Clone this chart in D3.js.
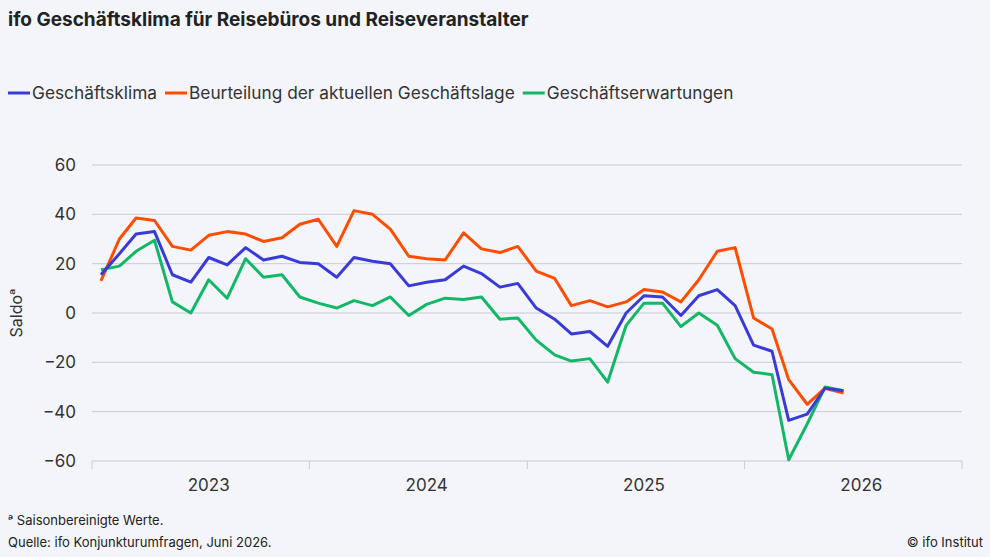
<!DOCTYPE html>
<html><head><meta charset="utf-8">
<script src="https://cdn.jsdelivr.net/npm/d3@7"></script>
<style>body{margin:0;background:#f3f5fa;font-family:Inter,"Noto Sans",sans-serif;}</style>
</head><body><svg id="c" width="990" height="557"></svg>
<script>
const startMonth = "2023-01";
const klima = [15.5,24,32,33,15.5,12.5,22.5,19.5,26.5,21.5,23,20.5,20,14.5,22.5,21,20,11,12.5,13.5,19,16,10.5,12,2,-2.5,-8.5,-7.5,-13.5,0,7,6.5,-1,7,9.5,3,-13,-15.5,-43.5,-41,-30.5,-31.5];
const lage = [13,30,38.5,37.5,27,25.5,31.5,33,32,29,30.5,36,38,27,41.5,40,34,23,22,21.5,32.5,26,24.5,27,17,14,3,5,2.5,4.5,9.5,8.5,4.5,13.5,25,26.5,-2,-6.5,-27,-37,-30.5,-32.5];
const erw = [17.5,19,25,29.5,4.5,0,13.5,6,22,14.5,15.5,6.5,4,2,5,3,6.5,-1,3.5,6,5.5,6.5,-2.5,-2,-11,-17,-19.5,-18.5,-28,-5,4,4,-5.5,0,-5,-18.5,-24,-25,-59.5,-45,-30,-31.5];
const yTicks = [-60,-40,-20,0,20,40,60];
const years = [2023,2024,2025,2026];
const seriesNames = ["Geschäftsklima","Beurteilung der aktuellen Geschäftslage","Geschäftserwartungen"];
const colors = ["#3a3ad8","#ff4d00","#12b866"];

const svg = d3.select("#c");
const x = d3.scaleTime().domain([new Date(2023,0,1),new Date(2027,0,1)]).range([92,962]);
const y = d3.scaleLinear().domain([-60,60]).range([461,165]);
const dateOf = i => new Date(2023, i, 16);

svg.append("text").attr("x",8).attr("y",26).attr("font-size",19).attr("font-weight",700).attr("fill","#222")
  .text("ifo Geschäftsklima für Reisebüros und Reiseveranstalter");

// legend
let lx = 8;
const lg = svg.append("g");
seriesNames.forEach((n,k)=>{
  lg.append("line").attr("x1",lx).attr("x2",lx+22).attr("y1",93).attr("y2",93).attr("stroke",colors[k]).attr("stroke-width",3);
  const t = lg.append("text").attr("x",lx+24).attr("y",99).attr("font-size",17.3).attr("fill","#333").text(n);
  lx += 24 + t.node().getComputedTextLength() + 8;
});

// grid
svg.append("g").selectAll("line").data(yTicks).join("line")
  .attr("x1",92).attr("x2",962).attr("y1",d=>y(d)).attr("y2",d=>y(d))
  .attr("stroke","#c9cad2").attr("stroke-width",1);
svg.append("g").selectAll("text").data(yTicks).join("text")
  .attr("x",76).attr("y",d=>y(d)+6).attr("text-anchor","end").attr("font-size",17).attr("fill","#333")
  .text(d=>d<0?"\u2212"+Math.abs(d):d);
svg.append("text").attr("transform","translate(22,313) rotate(-90)").attr("text-anchor","middle")
  .attr("font-size",16).attr("fill","#333").text("Saldoᵃ");

// x axis
const xt = years.concat([2027]).map(v=>new Date(v,0,1));
svg.append("g").selectAll("line").data(xt).join("line")
  .attr("x1",d=>x(d)).attr("x2",d=>x(d)).attr("y1",461).attr("y2",469).attr("stroke","#c9cad2");
svg.append("g").selectAll("text").data(years).join("text")
  .attr("x",d=>x(new Date(d,6,16))).attr("y",491).attr("text-anchor","middle").attr("font-size",17).attr("fill","#333").text(d=>d);

const line = d3.line().x((d,i)=>x(dateOf(i))).y(d=>y(d));
[erw,lage,klima].forEach((s,j)=>{
  const k=[2,1,0][j];
  svg.append("path").attr("d",line(s)).attr("fill","none").attr("stroke",colors[k]).attr("stroke-width",3).attr("stroke-linejoin","round");
});

svg.append("text").attr("x",8).attr("y",525).attr("font-size",13).attr("fill","#222").text("ᵃ Saisonbereinigte Werte.");
svg.append("text").attr("x",8).attr("y",547).attr("font-size",13).attr("fill","#222").text("Quelle: ifo Konjunkturumfragen,  Juni 2026.");
svg.append("text").attr("x",983).attr("y",547).attr("text-anchor","end").attr("font-size",13).attr("fill","#222").text("© ifo Institut");
</script></body></html>
